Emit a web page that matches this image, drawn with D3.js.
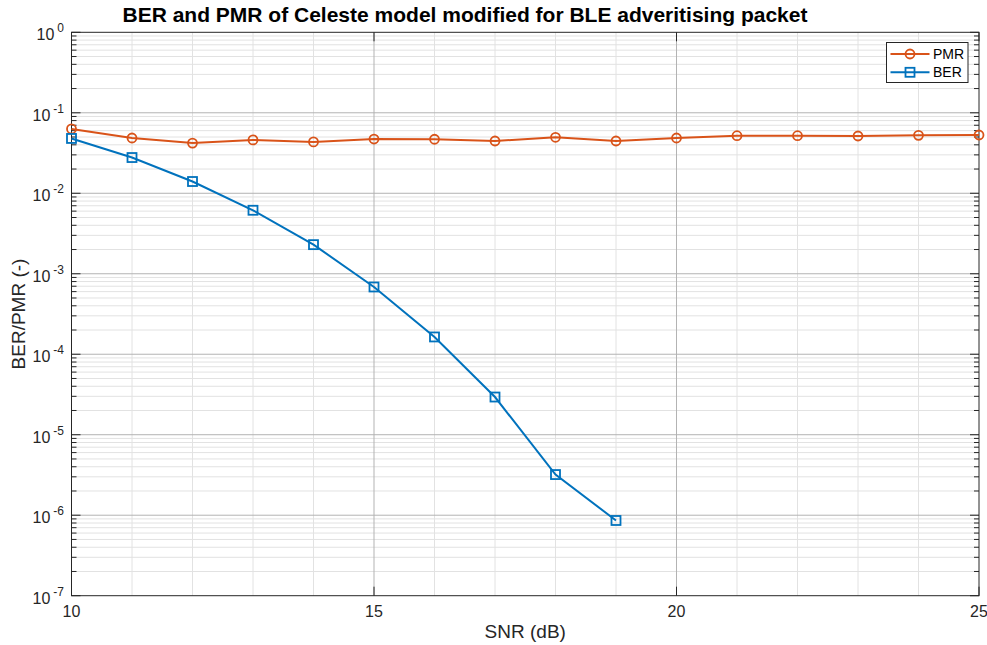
<!DOCTYPE html>
<html>
<head>
<meta charset="utf-8">
<script src="https://cdn.jsdelivr.net/npm/d3@7"></script>
<style>
  html, body { margin: 0; padding: 0; background: #fff; }
  svg { display: block; font-family: "Liberation Sans", Arial, Helvetica, sans-serif; }
</style>
</head>
<body>
<svg id="chart" width="987" height="645"></svg>
<script>
// SNR sweep (dB)
const snr = [10, 11, 12, 13, 14, 15, 16, 17, 18, 19, 20, 21, 22, 23, 24, 25];
// Packet miss rate for every SNR point
const pmr = [0.063, 0.0486, 0.042, 0.046, 0.0435, 0.0472, 0.0469, 0.0446, 0.0496, 0.0446,
             0.0486, 0.0519, 0.0519, 0.0515, 0.0525, 0.053];
// Bit error rate, measured up to 19 dB
const berSnr = [10, 11, 12, 13, 14, 15, 16, 17, 18, 19];
const ber = [0.048, 0.0278, 0.014, 0.00615, 0.0023, 0.000685, 0.000164, 0.0000294, 0.0000032, 0.00000086];
// Axis ticks
const xTicks = [10, 15, 20, 25];
const yExponents = [0, -1, -2, -3, -4, -5, -6, -7];

const svg = d3.select("#chart");
const m = { left: 71.5, right: 979, top: 32.3, bottom: 595.7 };

const x = d3.scaleLinear().domain([10, 25]).range([m.left, m.right]);
const y = d3.scaleLog().domain([1e-7, 1]).range([m.bottom, m.top]);

const majorGrid = "#b3b3b3", minorGrid = "#e2e2e2";

// minor grid: every integer dB, and 2..9 within every decade
const g = svg.append("g");
d3.range(10, 26).filter(v => !xTicks.includes(v)).forEach(v => {
  g.append("line").attr("x1", x(v)).attr("x2", x(v)).attr("y1", m.top).attr("y2", m.bottom)
    .attr("stroke", minorGrid).attr("stroke-width", 1);
});
const minorY = [];
yExponents.slice(1).forEach(e => { for (let k = 2; k <= 9; k++) minorY.push(k * Math.pow(10, e)); });
minorY.forEach(v => {
  g.append("line").attr("x1", m.left).attr("x2", m.right).attr("y1", y(v)).attr("y2", y(v))
    .attr("stroke", minorGrid).attr("stroke-width", 1);
});
// major grid
xTicks.slice(1, -1).forEach(v => {
  g.append("line").attr("x1", x(v)).attr("x2", x(v)).attr("y1", m.top).attr("y2", m.bottom)
    .attr("stroke", majorGrid).attr("stroke-width", 1);
});
yExponents.slice(1, -1).forEach(e => {
  const v = Math.pow(10, e);
  g.append("line").attr("x1", m.left).attr("x2", m.right).attr("y1", y(v)).attr("y2", y(v))
    .attr("stroke", majorGrid).attr("stroke-width", 1);
});

// axes box with inward ticks
const ax = svg.append("g").attr("stroke", "#262626").attr("stroke-width", 1);
ax.append("rect").attr("x", m.left).attr("y", m.top)
  .attr("width", m.right - m.left).attr("height", m.bottom - m.top)
  .attr("fill", "none");
xTicks.forEach(v => {
  ax.append("line").attr("x1", x(v)).attr("x2", x(v)).attr("y1", m.bottom).attr("y2", m.bottom - 9);
  ax.append("line").attr("x1", x(v)).attr("x2", x(v)).attr("y1", m.top).attr("y2", m.top + 9);
});
yExponents.forEach(e => {
  const v = Math.pow(10, e);
  ax.append("line").attr("x1", m.left).attr("x2", m.left + 9).attr("y1", y(v)).attr("y2", y(v));
  ax.append("line").attr("x1", m.right).attr("x2", m.right - 9).attr("y1", y(v)).attr("y2", y(v));
});
minorY.forEach(v => {
  ax.append("line").attr("x1", m.left).attr("x2", m.left + 5).attr("y1", y(v)).attr("y2", y(v));
  ax.append("line").attr("x1", m.right).attr("x2", m.right - 5).attr("y1", y(v)).attr("y2", y(v));
});

// tick labels
const txt = svg.append("g").attr("fill", "#262626");
xTicks.forEach(v => {
  txt.append("text").attr("x", x(v)).attr("y", m.bottom + 21)
    .attr("text-anchor", "middle").attr("font-size", 16).text(v);
});
yExponents.forEach(e => {
  const t = txt.append("text").attr("x", 64).attr("y", y(Math.pow(10, e)) + 8)
    .attr("text-anchor", "end").attr("font-size", 16);
  t.append("tspan").text("10");
  t.append("tspan").attr("dx", 3).attr("dy", -8).attr("font-size", 12).text(e === 0 ? "0" : "-" + (-e));
});

// axis titles
txt.append("text").attr("x", (m.left + m.right) / 2).attr("y", 638)
  .attr("text-anchor", "middle").attr("font-size", 19).text("SNR (dB)");
txt.append("text").attr("transform", "translate(25," + ((m.top + m.bottom) / 2) + ") rotate(-90)")
  .attr("text-anchor", "middle").attr("font-size", 19).text("BER/PMR (-)");
svg.append("text").attr("x", 465).attr("y", 22).attr("text-anchor", "middle")
  .attr("font-size", 21).attr("font-weight", "bold").attr("fill", "#000")
  .text("BER and PMR of Celeste model modified for BLE adveritising packet");

// series
const pmrColor = "#D95319", berColor = "#0072BD";
const line = d3.line().x(d => x(d[0])).y(d => y(d[1]));
const pmrData = snr.map((s, i) => [s, pmr[i]]);
const berData = berSnr.map((s, i) => [s, ber[i]]);

svg.append("path").datum(pmrData).attr("d", line)
  .attr("fill", "none").attr("stroke", pmrColor).attr("stroke-width", 2);
svg.append("g").selectAll("circle").data(pmrData).join("circle")
  .attr("cx", d => x(d[0])).attr("cy", d => y(d[1])).attr("r", 4.5)
  .attr("fill", "none").attr("stroke", pmrColor).attr("stroke-width", 1.8);

svg.append("path").datum(berData).attr("d", line)
  .attr("fill", "none").attr("stroke", berColor).attr("stroke-width", 2);
svg.append("g").selectAll("rect").data(berData).join("rect")
  .attr("x", d => x(d[0]) - 4.5).attr("y", d => y(d[1]) - 4.5)
  .attr("width", 9).attr("height", 9)
  .attr("fill", "none").attr("stroke", berColor).attr("stroke-width", 1.8);

// legend
const lg = svg.append("g");
lg.append("rect").attr("x", 886.5).attr("y", 42.5).attr("width", 81.5).attr("height", 40)
  .attr("fill", "#fff").attr("stroke", "#262626").attr("stroke-width", 1);
const entries = [
  { name: "PMR", color: pmrColor, shape: "circle", cy: 54 },
  { name: "BER", color: berColor, shape: "square", cy: 72.3 }
];
entries.forEach(en => {
  lg.append("line").attr("x1", 890.5).attr("x2", 929.5).attr("y1", en.cy).attr("y2", en.cy)
    .attr("stroke", en.color).attr("stroke-width", 2);
  if (en.shape === "circle") {
    lg.append("circle").attr("cx", 910).attr("cy", en.cy).attr("r", 4.5)
      .attr("fill", "none").attr("stroke", en.color).attr("stroke-width", 1.8);
  } else {
    lg.append("rect").attr("x", 905.5).attr("y", en.cy - 4.5).attr("width", 9).attr("height", 9)
      .attr("fill", "none").attr("stroke", en.color).attr("stroke-width", 1.8);
  }
  lg.append("text").attr("x", 933).attr("y", en.cy + 5).attr("font-size", 14)
    .attr("fill", "#000").text(en.name);
});
</script>
</body>
</html>
